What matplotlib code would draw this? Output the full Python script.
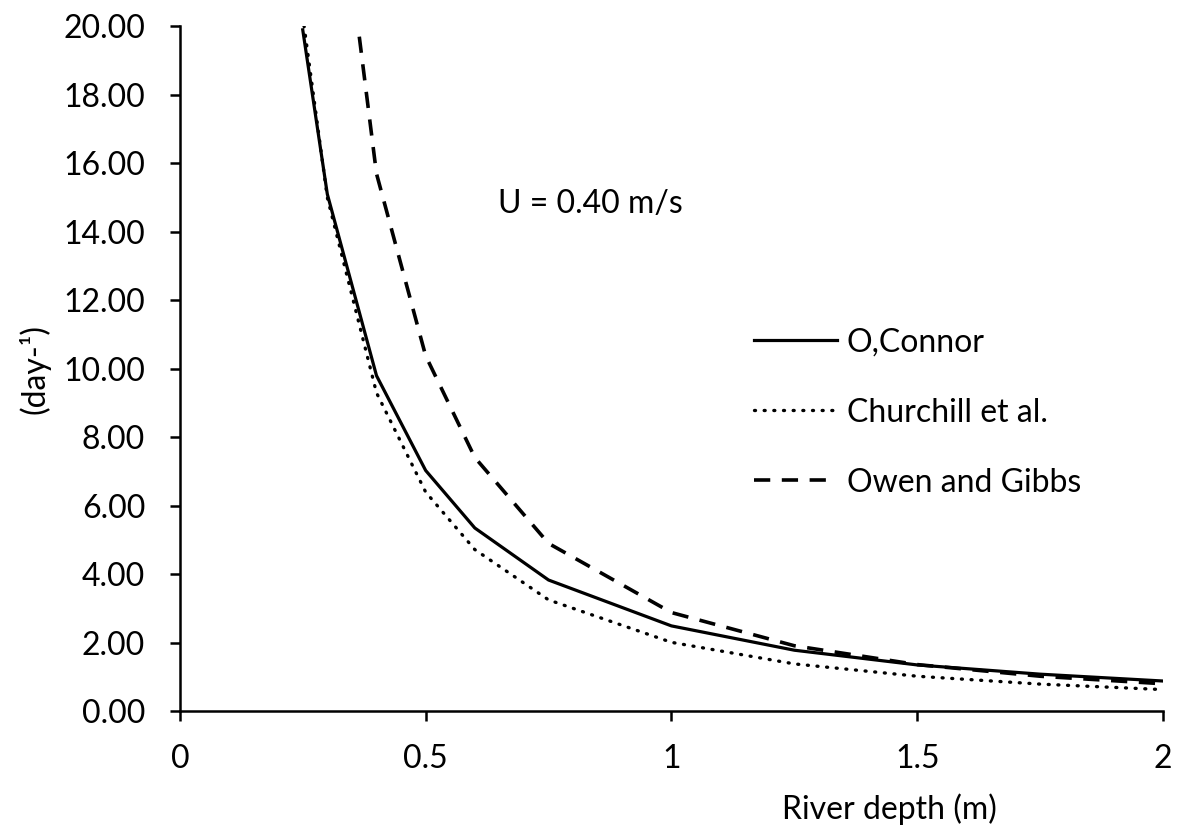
import matplotlib.pyplot as plt

plt.rcParams['font.family'] = ['Lato', 'DejaVu Sans']

# river depth (m) and reaeration coefficient (day-1)
depth_oconnor = [0.25, 0.3, 0.4, 0.5, 0.6, 0.75, 1.0, 1.25, 1.5, 1.75, 2.0]
k_oconnor = [19.9, 15.1, 9.8, 7.03, 5.35, 3.83, 2.49, 1.78, 1.35, 1.08, 0.88]

depth_churchill = [0.25, 0.3, 0.4, 0.5, 0.6, 0.75, 1.0, 1.25, 1.5, 1.75, 2.0]
k_churchill = [20.3, 15.0, 9.3, 6.4, 4.72, 3.25, 2.01, 1.38, 1.02, 0.79, 0.63]

depth_owen = [0.365, 0.4, 0.5, 0.6, 0.75, 1.0, 1.25, 1.5, 1.75, 2.0]
k_owen = [19.7, 15.7, 10.38, 7.41, 4.9, 2.88, 1.91, 1.36, 1.02, 0.8]

xticks = [0, 0.5, 1, 1.5, 2]
yticks = [0, 2, 4, 6, 8, 10, 12, 14, 16, 18, 20]

fs = 23

fig = plt.figure(figsize=(11.99, 8.25), dpi=100)
ax = fig.add_axes([0.150, 0.138, 0.820, 0.830])

ax.plot(depth_oconnor, k_oconnor, color='black', lw=2.3, ls='-', label='O,Connor')
ax.plot(depth_churchill, k_churchill, color='black', lw=2.4, ls=(0, (0.3, 2.6)),
        dash_capstyle='round', label='Churchill et al.')
ax.plot(depth_owen, k_owen, color='black', lw=2.6, ls=(0, (4.5, 3.2)), label='Owen and Gibbs')

ax.set_xlim(0, 2)
ax.set_ylim(0, 20)
ax.set_xticks(xticks)
ax.set_xticklabels(['0', '0.5', '1', '1.5', '2'])
ax.set_yticks(yticks)
ax.set_yticklabels(['{:.2f}'.format(v) for v in yticks])
ax.tick_params(labelsize=fs, length=7, width=1.8, direction='out')
ax.tick_params(axis='y', pad=18)
ax.tick_params(axis='x', pad=17)

for side in ['top', 'right']:
    ax.spines[side].set_visible(False)
for side in ['left', 'bottom']:
    ax.spines[side].set_linewidth(1.8)

ax.set_xlabel('River depth (m)', fontsize=fs)
ax.xaxis.set_label_coords(0.722, -0.12)
ax.set_ylabel('(day-¹)', fontsize=fs)
ax.yaxis.set_label_coords(-0.132, 0.5)

ax.text(0.647, 14.8, 'U = 0.40 m/s', fontsize=fs, va='center')

ax.legend(loc='center left', bbox_to_anchor=(0.555, 0.436), frameon=False,
          fontsize=fs, handlelength=2.6, handletextpad=0.3, labelspacing=1.25)

plt.savefig('out.png')
